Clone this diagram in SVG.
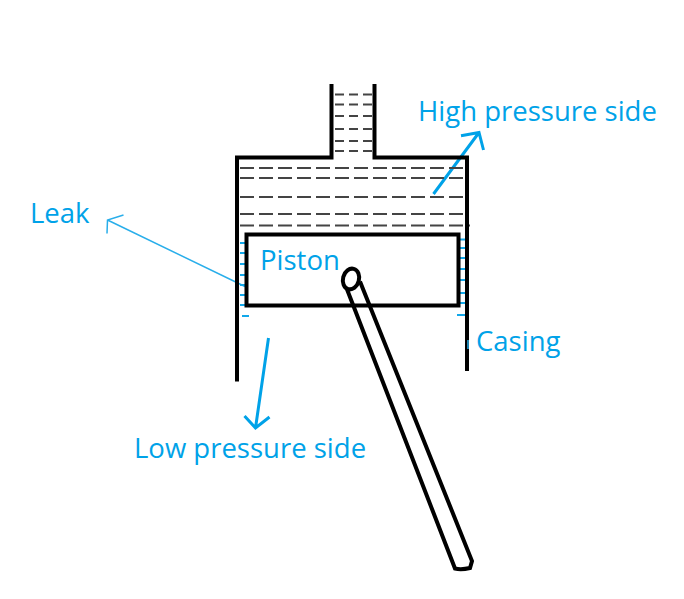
<svg xmlns="http://www.w3.org/2000/svg" width="684" height="599" viewBox="0 0 684 599">
<style>
.k{fill:none;stroke:#000;stroke-width:4;stroke-linejoin:miter}
.d{fill:none;stroke:#444;stroke-width:2;stroke-dasharray:14 5}
.n{fill:none;stroke:#444;stroke-width:2;stroke-dasharray:9 5}
.b{fill:none;stroke:#00a2e8;stroke-width:3}
.t{fill:none;stroke:#12a8ea;stroke-width:2}
.l{font-family:"Open Sans","Noto Sans",sans-serif;font-size:27.500px;fill:#00a2e8}
</style>
<rect width="684" height="599" fill="#fff"/>
<g id="connectors">
<path class="b" d="M433.500 194L479 132.500M461 135.700L479 132.500L483.500 150"/>
<path class="b" d="M268.500 338L255.500 428M244.500 416L255.500 428L269.500 417"/>
<path d="M245 286.500L107.500 220M123.500 215L107.500 220L107 233.500" fill="none" stroke="#29aeea" stroke-width="1.500"/>
</g>
<g id="fluid">
<path class="n" d="M335 94.500H373M335 104.500H373M335 116H373M335 129H373M335 141H373M335 151H373"/>
<path class="d" d="M240 168H466M240 178H466M240 197H466M240 214H466M240 225.500H470"/>
<path class="t" d="M240 243H246M240 253H246M240 264H246M240 275H246M240 285H246M240 295H246M240 305H246M242 316H249"/>
<path class="t" d="M460 239.500H466M460 248H466M460 258H466M460 269H466M460 280H466M460 293H466M460 303H466M457 315H465"/>
</g>
<g id="casing">
<path class="k" d="M237 381.500V157.500H331.500V84M374.500 84V157.500H467V371"/>
<path d="M468 340V349" stroke="#29aeea" stroke-width="1.500" fill="none"/>
</g>
<g id="piston">
<rect class="k" x="246.500" y="234.500" width="212" height="71"/>
</g>
<g id="rod">
<path d="M346.500 288L455 568.500Q461 570 470 568L472 561L360 281.500" fill="none" stroke="#000" stroke-width="4"/>
<ellipse cx="351" cy="279" rx="8" ry="10.500" transform="rotate(15 351 279)" fill="#fff" stroke="#000" stroke-width="4"/>
</g>
<g id="labels">
<text class="l" x="418" y="121">High pressure side</text>
<text class="l" x="30" y="223">Leak</text>
<text class="l" x="260" y="270">Piston</text>
<text class="l" x="476" y="351">Casing</text>
<text class="l" x="134" y="458">Low pressure side</text>
</g>
</svg>
